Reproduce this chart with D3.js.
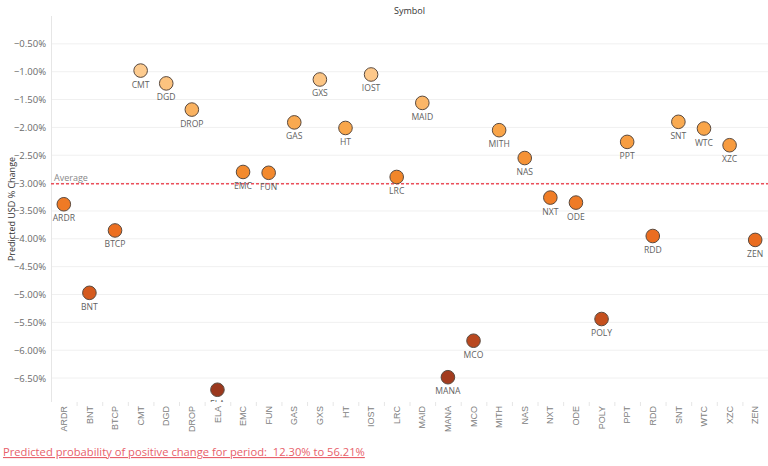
<!DOCTYPE html>
<html>
<head>
<meta charset="utf-8">
<script src="https://cdn.jsdelivr.net/npm/d3@7"></script>
<style>
  html, body { margin: 0; padding: 0; background: #ffffff; }
  svg { display: block; font-family: "Open Sans", "Noto Sans", sans-serif; }
</style>
</head>
<body>
<svg id="chart" width="768" height="466"></svg>
<script>
const symbols = ["ARDR","BNT","BTCP","CMT","DGD","DROP","ELA","EMC","FUN","GAS","GXS","HT","IOST","LRC","MAID","MANA","MCO","MITH","NAS","NXT","ODE","POLY","PPT","RDD","SNT","WTC","XZC","ZEN"];
const predictedChange = [-3.38,-4.97,-3.85,-0.98,-1.21,-1.68,-6.71,-2.80,-2.815,-1.91,-1.14,-2.01,-1.05,-2.89,-1.56,-6.485,-5.83,-2.05,-2.55,-3.26,-3.35,-5.44,-2.26,-3.95,-1.90,-2.02,-2.32,-4.02];
const yTicks = [-0.5,-1.0,-1.5,-2.0,-2.5,-3.0,-3.5,-4.0,-4.5,-5.0,-5.5,-6.0,-6.5];
const averageValue = -3.01;
const footerText = "Predicted probability of positive change for period:\u00a0 12.30% to 56.21%";

const svg = d3.select("#chart");
const pLeft = 51, pRight = 768, pTop = 16, pBottom = 402;

const x = d3.scaleBand().domain(symbols).range([pLeft, pRight]).padding(0);
const y = d3.scaleLinear().domain([-6.93, 0]).range([pBottom, pTop]);
const color = d3.scaleLinear()
  .domain([-6.71, -6.0, -5.0, -3.9, -2.9, -2.0, -0.98])
  .range(["#9b381d", "#b3451f", "#d4591e", "#ec6e20", "#f2862a", "#f9a64a", "#fdcb8f"]);

// clip
svg.append("defs").append("clipPath").attr("id", "plotclip")
  .append("rect").attr("x", pLeft).attr("y", pTop).attr("width", pRight - pLeft).attr("height", pBottom - pTop);

// gridlines
svg.append("g").selectAll("line").data(yTicks).join("line")
  .attr("x1", pLeft).attr("x2", pRight)
  .attr("y1", d => y(d)).attr("y2", d => y(d))
  .attr("stroke", "#f0f0f0").attr("stroke-width", 1);

// y axis line
svg.append("line").attr("x1", pLeft + 0.5).attr("x2", pLeft + 0.5).attr("y1", pTop).attr("y2", pBottom)
  .attr("stroke", "#e6e6e6");

// y axis
const yAxis = d3.axisLeft(y).tickValues(yTicks).tickSize(0).tickPadding(4)
  .tickFormat(d => d3.format(".2f")(d) + "%");
const yg = svg.append("g").attr("transform", `translate(${pLeft - 1},0)`).call(yAxis);
yg.select(".domain").remove();
yg.selectAll("text").attr("fill", "#6a6a6a").style("font-size", "9.5px").style("font-family", "'Open Sans', sans-serif");

// x axis
const xAxis = d3.axisBottom(x).tickSize(0).tickPadding(0);
const xg = svg.append("g").attr("transform", `translate(0,${pBottom})`).call(xAxis);
xg.select(".domain").remove();
xg.selectAll("text")
  .attr("transform", "rotate(-90)")
  .attr("x", -4).attr("y", 0).attr("dy", "0.35em")
  .style("text-anchor", "end")
  .attr("fill", "#808080").style("font-size", "9px");

// band separators below axis
svg.append("g").selectAll("line").data(symbols.slice(1)).join("line")
  .attr("x1", d => x(d) + 0.5).attr("x2", d => x(d) + 0.5)
  .attr("y1", pBottom).attr("y2", pBottom + 4)
  .attr("stroke", "#e6e6e6");

// average line
svg.append("line")
  .attr("x1", pLeft).attr("x2", pRight)
  .attr("y1", y(averageValue)).attr("y2", y(averageValue))
  .attr("stroke", "#ec4f5a").attr("stroke-width", 1.5).attr("stroke-dasharray", "3,2");
svg.append("text").attr("x", pLeft + 3).attr("y", y(averageValue) - 3)
  .text("Average").attr("fill", "#888").style("font-size", "9px");

// points
const data = symbols.map((s, i) => ({ s, v: predictedChange[i] }));
const pg = svg.append("g").attr("clip-path", "url(#plotclip)");
pg.selectAll("circle").data(data).join("circle")
  .attr("cx", d => x(d.s) + x.bandwidth() / 2)
  .attr("cy", d => y(d.v))
  .attr("r", 6.8)
  .attr("fill", d => color(d.v))
  .attr("stroke", "#5a4a3f").attr("stroke-width", 1);
pg.selectAll("text").data(data).join("text")
  .attr("x", d => x(d.s) + x.bandwidth() / 2)
  .attr("y", d => y(d.v) + 17)
  .attr("text-anchor", "middle")
  .attr("fill", "#5f5f5f").style("font-size", "8.6px")
  .text(d => d.s);

// title
svg.append("text").attr("x", (pLeft + pRight) / 2).attr("y", 14)
  .attr("text-anchor", "middle").attr("fill", "#333").style("font-size", "9px").text("Symbol");

// y title
svg.append("text").attr("transform", `translate(15,${(pTop + pBottom) / 2}) rotate(-90)`)
  .attr("text-anchor", "middle").attr("fill", "#333").style("font-size", "9px")
  .text("Predicted USD % Change");

// footer
svg.append("text").attr("x", 3).attr("y", 456)
  .attr("fill", "#e8606a").style("font-size", "11.2px").style("text-decoration", "underline")
  .text(footerText);
</script>
</body>
</html>
